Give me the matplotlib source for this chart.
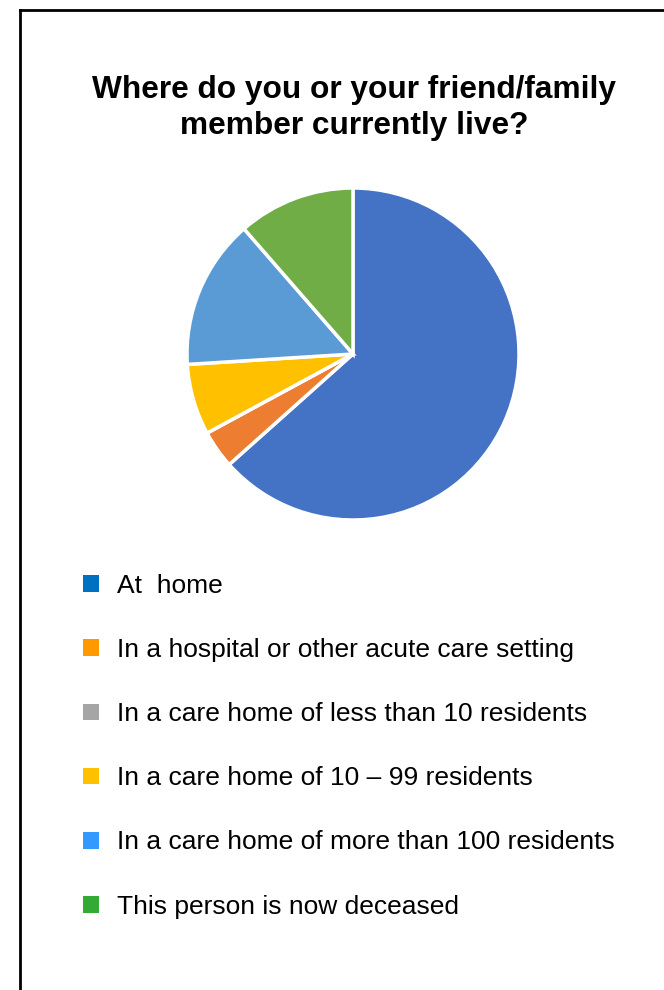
import matplotlib
matplotlib.use("Agg")
import matplotlib.pyplot as plt
from matplotlib.patches import Patch
from matplotlib.lines import Line2D

categories = [
    "At  home",
    "In a hospital or other acute care setting",
    "In a care home of less than 10 residents",
    "In a care home of 10 \u2013 99 residents",
    "In a care home of more than 100 residents",
    "This person is now deceased",
]
values = [63.4, 3.7, 0.0, 6.9, 14.6, 11.4]
pie_colors = ["#4472C4", "#ED7D31", "#A5A5A5", "#FFC000", "#5B9BD5", "#70AD47"]
legend_colors = ["#0070C0", "#FF9900", "#A5A5A5", "#FFC000", "#3399FF", "#33AA33"]
title = "Where do you or your friend/family\nmember currently live?"

plt.rcParams["font.family"] = ["Liberation Sans", "DejaVu Sans"]

W, H = 664, 990
fig = plt.figure(figsize=(W / 100, H / 100), dpi=100)

# frame lines (left and top)
fig.add_artist(Line2D([20 / W, 20 / W], [0, 1 - 10 / H], color="black", lw=2))
fig.add_artist(Line2D([20 / W, 1], [1 - 10 / H, 1 - 10 / H], color="black", lw=2))

fig.text(354 / W, 1 - 108 / H, title, ha="center", va="center",
         fontsize=22.8, fontweight="bold", linespacing=1.26)

cx, cy, r = 353, 354, 166
ax = fig.add_axes([(cx - r) / W, 1 - (cy + r) / H, 2 * r / W, 2 * r / H])
ax.pie(values, colors=pie_colors, startangle=90, counterclock=False,
       wedgeprops=dict(edgecolor="white", linewidth=2.5), radius=1)
ax.set_xlim(-1, 1)
ax.set_ylim(-1, 1)
ax.set_aspect("equal")
ax.axis("off")

handles = [Patch(facecolor=c, edgecolor="none") for c in legend_colors]
fig.legend(handles, categories, loc="upper left",
           bbox_to_anchor=(83 / W, 1 - 574 / H), frameon=False,
           fontsize=19, handlelength=0.6, handleheight=0.6,
           handletextpad=0.7, labelspacing=1.52, borderpad=0,
           borderaxespad=0)

fig.savefig("out.png", dpi=100)
